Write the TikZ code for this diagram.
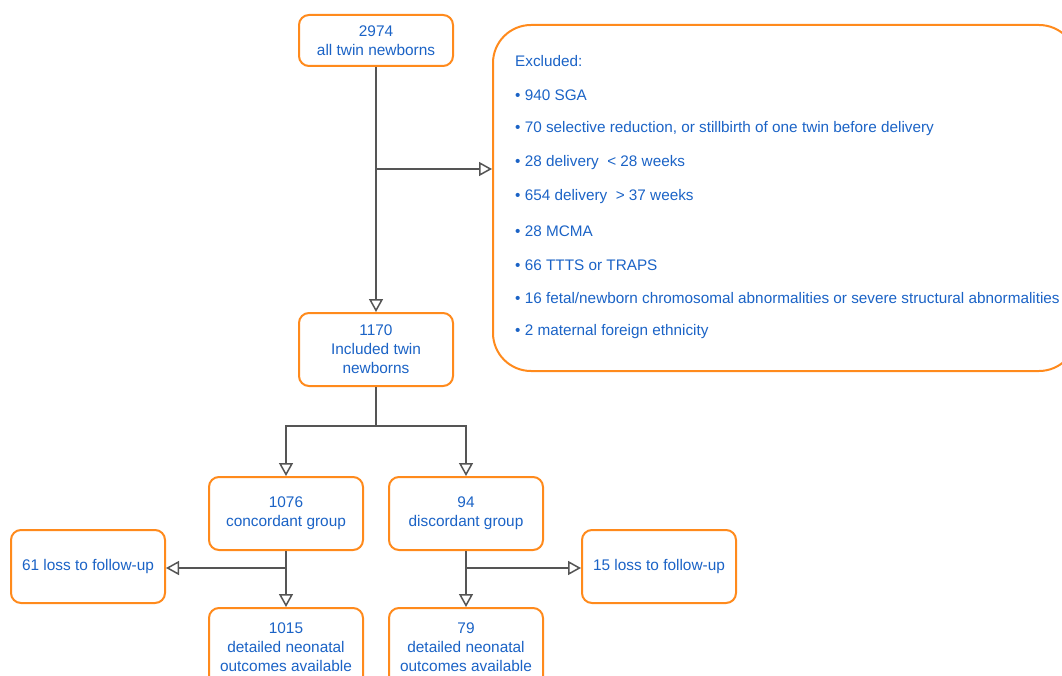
\documentclass[tikz,border=0pt]{standalone}
\usepackage{fontspec}
\setmainfont{Liberation Sans}
\usetikzlibrary{arrows.meta}
\definecolor{boxorange}{HTML}{FF8A1C}
\definecolor{txtblue}{HTML}{1B63C6}
\definecolor{linegray}{HTML}{555555}
\tikzset{
  x=1pt, y=-1pt,
  box/.style={draw=boxorange, line width=2pt, rounded corners=10pt, fill=white,
    minimum width=154pt, minimum height=73pt, align=center, text=txtblue,
    font=\fontsize{15.4}{19}\selectfont, inner sep=2pt},
  conn/.style={draw=linegray, line width=1.8pt},
  arr/.style={conn, -{Triangle[open, length=13pt, width=14pt, line width=1.5pt]}},
  excltxt/.style={text=txtblue, font=\fontsize{15.3}{19}\selectfont, anchor=west, inner sep=0pt}
}
\begin{document}
\begin{tikzpicture}
\useasboundingbox (0,0) rectangle (1062,676);
\clip (0,0) rectangle (1062,676);

\node[box, minimum height=51pt] (all) at (376,40.5) {2974\\all twin newborns};
\node[box] (incl) at (376,349.5) {1170\\Included twin\\newborns};
\node[box] (conc) at (286,513.5) {1076\\concordant group};
\node[box] (disc) at (466,513.5) {94\\discordant group};
\node[box] (loss1) at (88,566.5) {61 loss to follow-up};
\node[box] (loss2) at (659,566.5) {15 loss to follow-up};
\node[box, anchor=north, minimum height=78pt] (out1) at (286,607) {1015\\detailed neonatal\\outcomes available};
\node[box, anchor=north, minimum height=78pt] (out2) at (466,607) {79\\detailed neonatal\\outcomes available};

\node[draw=boxorange, line width=2pt, rounded corners=38pt, minimum width=584pt,
  minimum height=346pt, anchor=north west, inner sep=0pt] (excl) at (492,24) {};

\node[excltxt] (e0) at (515,61) {Excluded:};
\node[excltxt] (e1) at (515,95) {• 940 SGA};
\node[excltxt] (e2) at (515,129) {• 70 selective reduction, or stillbirth of one twin before delivery};
\node[excltxt] (e3) at (515,163) {• 28 delivery\ \ < 28 weeks};
\node[excltxt] (e4) at (515,197) {• 654 delivery\ \ > 37 weeks};
\node[excltxt] (e5) at (515,231) {• 28 MCMA};
\node[excltxt] (e6) at (515,265) {• 66 TTTS or TRAPS};
\node[excltxt] (e7) at (515,298) {• 16 fetal/newborn chromosomal abnormalities or severe structural abnormalities};
\node[excltxt] (e8) at (515,332) {• 2 maternal foreign ethnicity};

\coordinate (j1) at (376,169);
\coordinate (j2) at (376,426);
\coordinate (j3) at (286,568);
\coordinate (j4) at (466,568);

\draw[arr] (all.south) -- (incl.north);
\draw[arr] (j1) -- (excl.west |- j1);
\draw[conn] (incl.south) -- (j2);
\draw[arr] (j2) -| (conc.north);
\draw[arr] (j2) -| (disc.north);
\draw[arr] (conc.south) -- (out1.north);
\draw[arr] (j3) -- (loss1.east |- j3);
\draw[arr] (disc.south) -- (out2.north);
\draw[arr] (j4) -- (loss2.west |- j4);
\end{tikzpicture}
\end{document}
